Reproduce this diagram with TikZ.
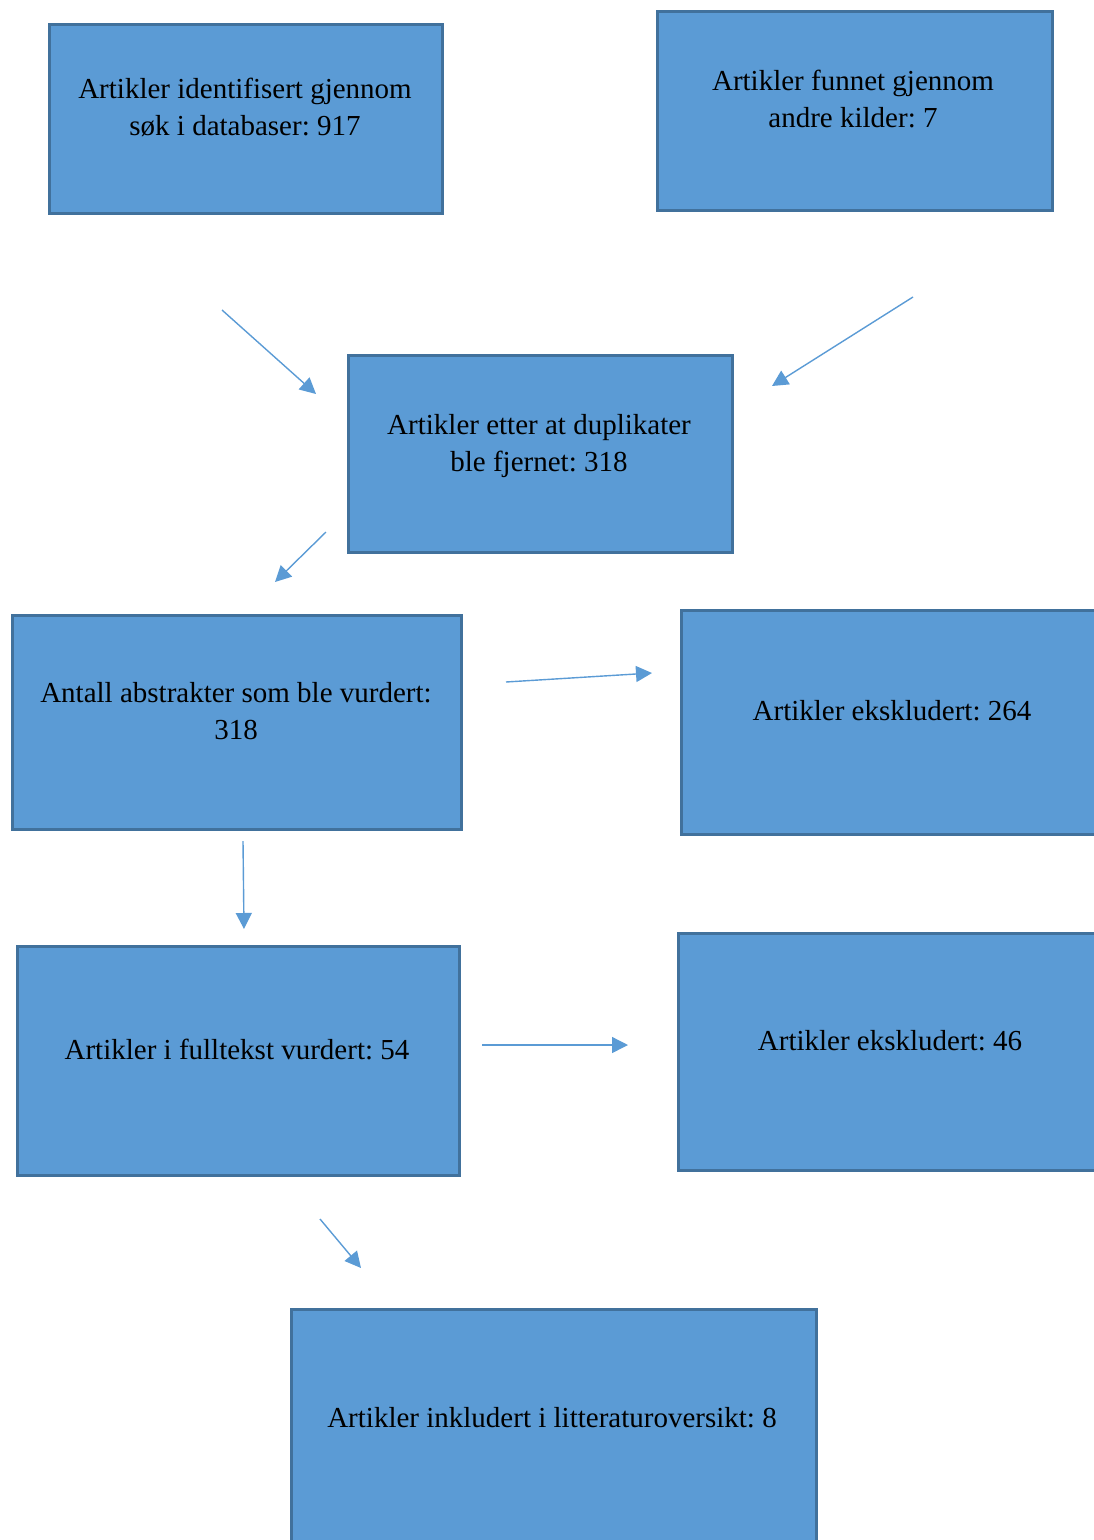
\documentclass[tikz,border=0pt]{standalone}
\usepackage{fontspec}
\setmainfont{Liberation Serif}
\usetikzlibrary{arrows.meta}
\definecolor{boxfill}{HTML}{5B9BD5}
\definecolor{boxline}{HTML}{41719C}
\frenchspacing
\begin{document}
\begin{tikzpicture}[x=1pt,y=-1pt,
  flowbox/.style={draw=boxline, fill=boxfill, line width=2.5pt, inner sep=0pt, anchor=north west},
  flowtext/.style={align=center, font=\fontsize{29}{37}\selectfont, inner sep=0pt, anchor=north},
  flowarrow/.style={draw=boxfill, line width=1.4pt, -{Triangle[length=16pt,width=16pt]}}]
\useasboundingbox (0,0) rectangle (1094,1540);
\clip (0,0) rectangle (1094,1540);
% boxes
\node[flowbox, minimum width=393pt, minimum height=189pt] (b1) at (48,23) {};
\node[flowbox, minimum width=395pt, minimum height=199pt] (b2) at (656,10) {};
\node[flowbox, minimum width=384pt, minimum height=197pt] (b3) at (347,354) {};
\node[flowbox, minimum width=449pt, minimum height=214pt] (b4) at (11,614) {};
\node[flowbox, minimum width=431pt, minimum height=224pt] (b5) at (680,609) {};
\node[flowbox, minimum width=442pt, minimum height=229pt] (b6) at (16,945) {};
\node[flowbox, minimum width=434pt, minimum height=237pt] (b7) at (677,932) {};
\node[flowbox, minimum width=525pt, minimum height=260pt] (b8) at (290,1308) {};
% texts
\node[flowtext] (t1) at (245,78) {Artikler identifisert gjennom\\søk i databaser: 917};
\node[flowtext] (t2) at (853,70) {Artikler funnet gjennom\\andre kilder: 7};
\node[flowtext] (t3) at (539,414) {Artikler etter at duplikater\\ble fjernet: 318};
\node[flowtext] (t4) at (236,682) {Antall abstrakter som ble vurdert:\\318};
\node[flowtext] (t5) at (892,700) {Artikler ekskludert: 264};
\node[flowtext] (t6) at (237,1039) {Artikler i fulltekst vurdert: 54};
\node[flowtext] (t7) at (890,1030) {Artikler ekskludert: 46};
\node[flowtext] (t8) at (552,1407) {Artikler inkludert i litteraturoversikt: 8};
% arrows
\coordinate (a1s) at (222,310); \coordinate (a1e) at (316,394);
\coordinate (a2s) at (913,297); \coordinate (a2e) at (772,386);
\coordinate (a3s) at (326,532); \coordinate (a3e) at (275,582);
\coordinate (a4s) at (506,682); \coordinate (a4e) at (652,673);
\coordinate (a5s) at (243,841); \coordinate (a5e) at (244,929);
\coordinate (a6s) at (482,1045); \coordinate (a6e) at (628,1045);
\coordinate (a7s) at (320,1219); \coordinate (a7e) at (361,1268);
\draw[flowarrow] (a1s) -- (a1e);
\draw[flowarrow] (a2s) -- (a2e);
\draw[flowarrow] (a3s) -- (a3e);
\draw[flowarrow] (a4s) -- (a4e);
\draw[flowarrow] (a5s) -- (a5e);
\draw[flowarrow] (a6s) -- (a6e);
\draw[flowarrow] (a7s) -- (a7e);
\end{tikzpicture}
\end{document}
